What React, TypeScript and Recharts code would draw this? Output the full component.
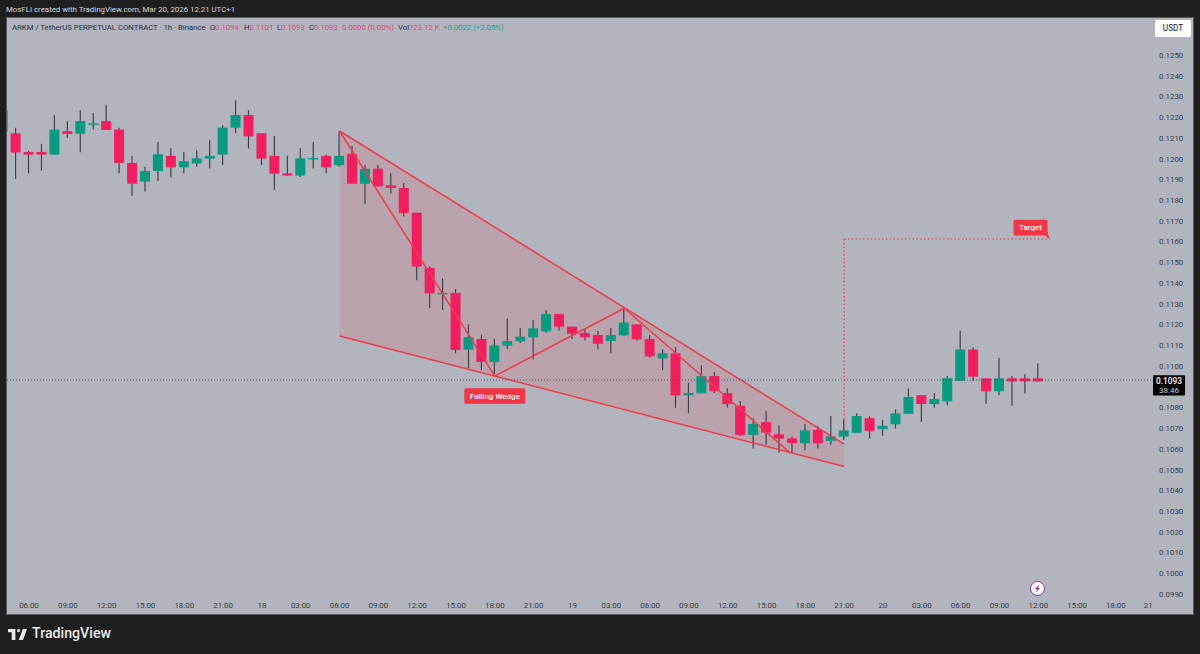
import { Area, Bar, ComposedChart, ReferenceDot, ReferenceLine, XAxis, YAxis } from 'recharts'

const FONT = 'Roboto, "Noto Sans", sans-serif'
const UP = '#0a9a7f'
const DOWN = '#ef1f60'
const WICK = '#3f424c'
const DRAW = '#ee3a4e'

// hours counted from Mar 17 06:00
const hours = [
  -2, -1, 0, 1, 2, 3, 4, 5, 6, 7, 8, 9, 10, 11, 12, 13, 14, 15, 16, 17, 18, 19, 20, 21, 22, 23, 24, 25, 26, 27, 28, 29,
  30, 31, 32, 33, 34, 35, 36, 37, 38, 39, 40, 41, 42, 43, 44, 45, 46, 47, 48, 49, 50, 51, 52, 53, 54, 55, 56, 57, 58,
  59, 60, 61, 62, 63, 64, 65, 66, 67, 68, 69, 70, 71, 72, 73, 74, 75, 76, 77, 78,
]

const opens = [
  0.12229, 0.1212, 0.1203, 0.1203, 0.12017, 0.1213, 0.12118, 0.12165, 0.12179, 0.12138, 0.11977, 0.11887, 0.11938,
  0.12011, 0.11956, 0.11975, 0.11998, 0.12017, 0.12147, 0.12208, 0.1212, 0.12011, 0.11927, 0.11916, 0.11998, 0.12011,
  0.11966, 0.1202, 0.11877, 0.11949, 0.11869, 0.11856, 0.11737, 0.1147, 0.11346, 0.1135, 0.11076, 0.11128, 0.11017,
  0.11096, 0.11116, 0.11136, 0.11165, 0.11248, 0.11187, 0.11157, 0.11147, 0.11118, 0.11145, 0.11198, 0.11128, 0.11034,
  0.11059, 0.10856, 0.10866, 0.10949, 0.10867, 0.10806, 0.10665, 0.10727, 0.10668, 0.10649, 0.10625, 0.10689, 0.10636,
  0.10657, 0.10675, 0.10746, 0.10693, 0.10716, 0.10767, 0.10857, 0.10814, 0.10827, 0.10926, 0.11077, 0.10938, 0.10876,
  0.10938, 0.10938, 0.10938,
]
const highs = [
  0.12229, 0.12147, 0.12035, 0.12069, 0.12208, 0.12179, 0.12231, 0.12218, 0.12258, 0.12147, 0.12011, 0.11959, 0.12078,
  0.12048, 0.1203, 0.12038, 0.12088, 0.12159, 0.12278, 0.12231, 0.1212, 0.12107, 0.12011, 0.12048, 0.12078, 0.12017,
  0.12131, 0.12059, 0.11967, 0.11967, 0.11927, 0.1188, 0.11737, 0.11478, 0.1142, 0.11369, 0.11198, 0.11147, 0.11129,
  0.11227, 0.11181, 0.11219, 0.11268, 0.11248, 0.11187, 0.11181, 0.11166, 0.11181, 0.11276, 0.11198, 0.11147, 0.11078,
  0.11089, 0.10917, 0.11001, 0.10969, 0.1089, 0.10829, 0.10745, 0.10781, 0.1071, 0.10658, 0.10719, 0.10708, 0.10756,
  0.1074, 0.10769, 0.10754, 0.10738, 0.10788, 0.10889, 0.10857, 0.10867, 0.10949, 0.11168, 0.11087, 0.10938, 0.11037,
  0.10949, 0.10959, 0.1101,
]
const lows = [
  0.12128, 0.119, 0.11927, 0.1194, 0.12017, 0.12097, 0.12028, 0.12138, 0.12136, 0.11927, 0.11819, 0.11839, 0.1189,
  0.11908, 0.11927, 0.11959, 0.1195, 0.11967, 0.1212, 0.12046, 0.11967, 0.11848, 0.11916, 0.11909, 0.1195, 0.11927,
  0.11959, 0.11877, 0.11779, 0.11864, 0.1183, 0.11719, 0.11411, 0.11277, 0.11268, 0.1106, 0.10988, 0.10978, 0.10951,
  0.1108, 0.11108, 0.1103, 0.11158, 0.11168, 0.11128, 0.1112, 0.11078, 0.11059, 0.11144, 0.1112, 0.11038, 0.10978,
  0.10796, 0.10769, 0.10866, 0.10867, 0.10797, 0.1066, 0.106, 0.10618, 0.10579, 0.10576, 0.10591, 0.106, 0.10618,
  0.10641, 0.10675, 0.10648, 0.10661, 0.10696, 0.10767, 0.10727, 0.10796, 0.10807, 0.10926, 0.10925, 0.10815, 0.10857,
  0.10806, 0.10865, 0.10923,
]
const closes = [
  0.12128, 0.12027, 0.12017, 0.12017, 0.12138, 0.12117, 0.12179, 0.12168, 0.12136, 0.11977, 0.11877, 0.11938, 0.12019,
  0.11956, 0.11986, 0.11999, 0.12011, 0.12147, 0.12208, 0.12105, 0.11998, 0.11925, 0.11916, 0.11999, 0.12001, 0.11956,
  0.12011, 0.11877, 0.11948, 0.11864, 0.11856, 0.11735, 0.11477, 0.11348, 0.1135, 0.11075, 0.11137, 0.11017, 0.11097,
  0.11118, 0.11139, 0.11179, 0.11248, 0.11187, 0.11153, 0.11136, 0.11105, 0.11147, 0.11207, 0.11126, 0.11044, 0.11059,
  0.10856, 0.10867, 0.10949, 0.10877, 0.10814, 0.10665, 0.10718, 0.10676, 0.10647, 0.10626, 0.10687, 0.10625, 0.10658,
  0.10687, 0.10756, 0.10684, 0.10709, 0.10769, 0.10848, 0.10814, 0.10838, 0.10939, 0.11077, 0.10946, 0.10876, 0.10938,
  0.10923, 0.10923, 0.10923,
]

const candles = hours.map((hour, i) => ({
  hour,
  open: opens[i],
  high: highs[i],
  low: lows[i],
  close: closes[i],
  wick: [lows[i], highs[i]],
}))

const timeTicks = [
  0, 3, 6, 9, 12, 15, 18, 21, 24, 27, 30, 33, 36, 39, 42, 45, 48, 51, 54, 57, 60, 63, 66, 69, 72, 75, 78, 81, 84, 86.5,
]
const timeLabels = [
  '06:00', '09:00', '12:00', '15:00', '18:00', '21:00', '18', '03:00', '06:00', '09:00', '12:00', '15:00', '18:00',
  '21:00', '19', '03:00', '06:00', '09:00', '12:00', '15:00', '18:00', '21:00', '20', '03:00', '06:00', '09:00',
  '12:00', '15:00', '18:00', '21',
]
const priceTicks = [
  0.125, 0.124, 0.123, 0.122, 0.121, 0.12, 0.119, 0.118, 0.117, 0.116, 0.115, 0.114, 0.113, 0.112, 0.111, 0.11, 0.108,
  0.107, 0.106, 0.105, 0.104, 0.103, 0.102, 0.101, 0.1, 0.099,
]

const wedgeBand = [
  { hour: 24, band: [0.11142, 0.12131] },
  { hour: 63, band: [0.10513, 0.10621] },
]
const zigzag = [
  { x: 24, y: 0.12131 },
  { x: 36, y: 0.10949 },
  { x: 46, y: 0.11276 },
  { x: 58.8, y: 0.1058 },
]
const lastPrice = 0.1093
const targetPrice = 0.1161

const legendItems = [
  { left: 12, color: '#2a2e39', text: 'ARKM / TetherUS PERPETUAL CONTRACT · 1h · Binance' },
  { left: 210, color: '#2a2e39', text: 'O' },
  { left: 215, color: '#e9447f', text: '0.1094' },
  { left: 244, color: '#2a2e39', text: 'H' },
  { left: 249.5, color: '#e9447f', text: '0.1101' },
  { left: 277, color: '#2a2e39', text: 'L' },
  { left: 281, color: '#e9447f', text: '0.1093' },
  { left: 309, color: '#2a2e39', text: 'C' },
  { left: 314, color: '#e9447f', text: '0.1093' },
  { left: 342, color: '#e9447f', text: '0.0000 (0.00%)' },
  { left: 398, color: '#2a2e39', text: 'Vol' },
  { left: 409, color: '#e9447f', text: '723.12 K' },
  { left: 443, color: '#14a58a', text: '+0.0022 (+2.05%)' },
]

function Candle(props: any) {
  const { x, y, width, height, payload } = props
  const { open, close, high, low } = payload
  const perUnit = height / (high - low || 1)
  const top = y + (high - Math.max(open, close)) * perUnit
  const bodyHeight = Math.max(Math.abs(open - close) * perUnit, 1.5)
  const mid = x + width / 2
  return (
    <g>
      <line x1={mid} x2={mid} y1={y} y2={y + height} stroke={WICK} strokeWidth={1.2} />
      <rect x={x} y={top} width={width} height={bodyHeight} fill={close >= open ? UP : DOWN} />
    </g>
  )
}

function PriceTick({ x, y, payload }: any) {
  // nested svg cuts off the lowest label at the time scale, as on the original
  return (
    <svg x={x} y={18} width={40} height={579} style={{ overflow: 'hidden' }}>
      <text x={0} y={y - 18 + 3.4} fontSize={7.9} fontFamily={FONT} fill="#363a45">
        {payload.value.toFixed(4)}
      </text>
    </svg>
  )
}

function DrawingLabel({ cx, cy, text, w, tail }: any) {
  return (
    <g>
      {tail ? <path d={`M${cx + w / 2 - 4} ${cy + 7} L${cx + w / 2 + 2} ${cy + 11.5} L${cx + w / 2} ${cy + 4} Z`} fill="#f23645" /> : null}
      <rect x={cx - w / 2} y={cy - 7.8} width={w} height={15.6} rx={1.5} fill="#f23645" />
      <text x={cx} y={cy + 2.8} textAnchor="middle" fontSize={8} fontWeight={500} fontFamily={FONT} fill="#fff">
        {text}
      </text>
    </g>
  )
}

function PriceTag({ cx, cy }: any) {
  return (
    <g>
      <rect x={cx + 2} y={cy - 4.8} width={32} height={20.4} rx={1} fill="#000" />
      <text x={cx + 18} y={cy + 3.6} textAnchor="middle" fontSize={8.4} fontWeight={500} fontFamily={FONT} fill="#fff">
        0.1093
      </text>
      <text x={cx + 18} y={cy + 13} textAnchor="middle" fontSize={8} fontFamily={FONT} fill="#d1d4dc">
        38:46
      </text>
    </g>
  )
}

export default function App() {
  return (
    <div style={{ position: 'absolute', left: 0, top: 0, width: 1200, height: 654, background: '#1e1e1e', overflow: 'hidden', fontFamily: FONT }}>
      <div style={{ position: 'absolute', left: 6, top: 5, fontSize: 7.85, color: '#d6d8de', whiteSpace: 'nowrap' }}>
        MosFLI created with TradingView.com, Mar 20, 2026 12:21 UTC+1
      </div>
      <div style={{ position: 'absolute', left: 7, top: 18, width: 1186, height: 596, background: '#b2b5be', boxShadow: '0 0 0 1px #55575e' }} />

      <div style={{ position: 'absolute', left: 0, top: 0 }}>
        <ComposedChart width={1200} height={654} data={candles} margin={{ top: 18, right: 7, bottom: 40, left: 7 }}>
          <XAxis
            dataKey="hour"
            type="number"
            domain={[-1.7, 86.71]}
            allowDataOverflow
            ticks={timeTicks}
            interval={0}
            height={19}
            axisLine={false}
            tickLine={false}
            tickMargin={1}
            tick={{ fill: '#363a45', fontSize: 7.9, fontFamily: FONT }}
            tickFormatter={(value: number) => timeLabels[timeTicks.indexOf(value)]}
          />
          <YAxis
            orientation="right"
            type="number"
            domain={[0.09893, 0.12676]}
            allowDataOverflow
            ticks={priceTicks}
            interval={0}
            width={42}
            axisLine={false}
            tickLine={false}
            tick={<PriceTick />}
          />

          <Area data={wedgeBand} dataKey="band" type="linear" stroke="none" fill="#f23645" fillOpacity={0.14} isAnimationActive={false} dot={false} activeDot={false} />
          <ReferenceLine
            segment={[{ x: wedgeBand[0].hour, y: wedgeBand[0].band[1] }, { x: wedgeBand[1].hour, y: wedgeBand[1].band[1] }]}
            stroke={DRAW}
            strokeWidth={1.5}
          />
          <ReferenceLine
            segment={[{ x: wedgeBand[0].hour, y: wedgeBand[0].band[0] }, { x: wedgeBand[1].hour, y: wedgeBand[1].band[0] }]}
            stroke={DRAW}
            strokeWidth={1.5}
          />
          {zigzag.slice(1).map((point, i) => (
            <ReferenceLine key={i} segment={[zigzag[i], point]} stroke={DRAW} strokeWidth={1.5} />
          ))}
          <ReferenceLine y={lastPrice} stroke="#4a4d58" strokeDasharray="1 2" />
          <ReferenceLine segment={[{ x: 63, y: 0.1065 }, { x: 63, y: targetPrice }]} stroke="#ea3346" strokeWidth={1.2} strokeDasharray="1.4 2.4" />
          <ReferenceLine segment={[{ x: 63, y: targetPrice }, { x: 78.9, y: targetPrice }]} stroke="#ea3346" strokeWidth={1.2} strokeDasharray="1.4 2.4" />

          <Bar dataKey="wick" barSize={10} shape={<Candle />} isAnimationActive={false} />

          <ReferenceDot x={36} y={0.10853} r={0} ifOverflow="visible" shape={<DrawingLabel text="Falling Wedge" w={61} />} />
          <ReferenceDot x={77.4} y={0.11665} r={0} ifOverflow="visible" shape={<DrawingLabel text="Target" w={34} tail />} />
          <ReferenceDot x={86.71} y={lastPrice} r={0} ifOverflow="visible" shape={<PriceTag />} />
        </ComposedChart>
      </div>

      {legendItems.map((item) => (
        <div key={item.left} style={{ position: 'absolute', left: item.left, top: 22.5, fontSize: 7.75, color: item.color, whiteSpace: 'nowrap' }}>
          {item.text}
        </div>
      ))}

      <div style={{ position: 'absolute', left: 1155, top: 20, width: 36, height: 17, borderRadius: 2, background: '#fff', color: '#131722', fontSize: 8.2, lineHeight: '17px', textAlign: 'center' }}>
        USDT
      </div>

      <svg style={{ position: 'absolute', left: 1029, top: 580 }} width={17} height={17} viewBox="0 0 17 17">
        <circle cx={8.5} cy={8.5} r={7} fill="#fff" stroke="#9c27b0" strokeWidth={1} />
        <path d="M10 4.5 L6 9 H8.2 L7 12.5 L11 8 H8.8 Z" fill="#9c27b0" />
      </svg>

      <svg style={{ position: 'absolute', left: 8, top: 628.5 }} width={19} height={11.6} viewBox="0 6 36 22">
        <path d="M14 6H0v6h7v16h7V6Zm14 22h-8l8-22h8l-8 22Zm-8-16a3 3 0 1 0 0-6 3 3 0 0 0 0 6Z" fill="#e8e8e8" />
      </svg>
      <div style={{ position: 'absolute', left: 32, top: 625, fontSize: 14.2, fontWeight: 500, color: '#e8e8e8', whiteSpace: 'nowrap' }}>
        TradingView
      </div>
    </div>
  )
}
